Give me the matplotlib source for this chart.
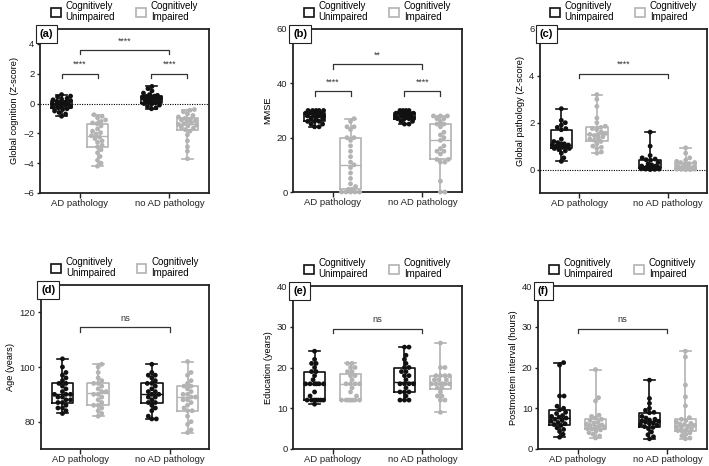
import numpy as np
import matplotlib.pyplot as plt
from matplotlib.patches import Patch

plt.rcParams['font.family'] = ['Liberation Sans', 'DejaVu Sans']
plt.rcParams['font.size'] = 6.7

groups = ['AD pathology', 'no AD pathology']
legend_labels = ['Cognitively\nUnimpaired', 'Cognitively\nImpaired']

# (a) global cognition z-score
cog_cu_ad = [0.6, 0.5, 0.45, 0.35, 0.3, 0.25, 0.2, 0.15, 0.1, 0.05, 0.0, -0.02, -0.05,
             -0.08, -0.1, -0.15, -0.2, -0.25, -0.3, -0.35, -0.4, -0.5, -0.6, -0.7, -0.85]
cog_ci_ad = [-0.75, -0.85, -0.95, -1.1, -1.2, -1.3, -1.35, -1.5, -1.7, -1.85, -1.95, -2.05, -2.15,
             -2.25, -2.35, -2.5, -2.6, -2.8, -2.9, -3.1, -3.3, -3.55, -3.8, -4.0, -4.2]
cog_cu_noad = [1.15, 1.0, 0.85, 0.7, 0.6, 0.55, 0.5, 0.48, 0.45, 0.42, 0.38, 0.35, 0.3,
               0.28, 0.25, 0.2, 0.15, 0.1, 0.05, 0.0, -0.05, -0.1, -0.2, -0.28, -0.35]
cog_ci_noad = [-0.4, -0.45, -0.55, -0.7, -0.8, -0.9, -1.0, -1.05, -1.1, -1.15, -1.2, -1.3, -1.35,
               -1.4, -1.45, -1.5, -1.6, -1.65, -1.75, -1.85, -2.1, -2.5, -2.9, -3.2, -3.7]

# (b) MMSE
mmse_cu_ad = [30, 30, 30, 30, 30, 29, 29, 29, 29, 29, 28, 28, 28, 28, 28, 27, 27, 27, 26, 26, 26, 25, 25, 24, 24]
mmse_ci_ad = [27, 26, 24, 24, 23, 20, 20, 19, 17, 15, 13, 11, 10, 9, 7, 5, 3, 2, 1, 1, 0, 0, 0, 0, 0]
mmse_cu_noad = [30, 30, 30, 30, 29, 29, 29, 29, 29, 29, 29, 28, 28, 28, 28, 28, 28, 27, 27, 27, 27, 26, 26, 25, 25]
mmse_ci_noad = [28, 28, 28, 27, 27, 26, 25, 25, 24, 22, 21, 20, 19, 17, 16, 15, 15, 14, 12, 12, 11, 11, 4, 0, 0]

# (c) global pathology z-score
path_cu_ad = [2.6, 2.1, 2.0, 1.9, 1.8, 1.75, 1.7, 1.3, 1.2, 1.15, 1.1, 1.1, 1.05, 1.05, 1.0, 1.0,
              0.95, 0.95, 0.9, 0.9, 0.85, 0.8, 0.7, 0.5, 0.35]
path_ci_ad = [3.2, 3.0, 2.7, 2.2, 2.0, 1.85, 1.8, 1.75, 1.7, 1.6, 1.55, 1.5, 1.5, 1.45, 1.4, 1.35,
              1.3, 1.25, 1.2, 1.1, 1.0, 0.95, 0.9, 0.75, 0.7]
path_cu_noad = [1.6, 1.0, 0.6, 0.5, 0.45, 0.42, 0.4, 0.3, 0.25, 0.2, 0.15, 0.15, 0.1, 0.1, 0.08,
                0.08, 0.06, 0.05, 0.05, 0.04, 0.03, 0.02, 0.02, 0.01, 0.0]
path_ci_noad = [0.93, 0.7, 0.5, 0.4, 0.35, 0.3, 0.3, 0.25, 0.2, 0.15, 0.12, 0.1, 0.1, 0.08, 0.06,
                0.05, 0.05, 0.04, 0.03, 0.02, 0.02, 0.01, 0.0, 0.0]

# (d) age
age_cu_ad = [103, 100, 98, 97, 96, 95, 94, 94, 93, 92, 91, 90, 90, 90, 89, 89, 88, 88, 87, 87, 86, 85, 85, 84, 83]
age_ci_ad = [101, 100, 98, 96, 95, 94, 94, 93, 92, 91, 91, 90, 90, 89, 88, 87, 86, 86, 85, 84, 83, 82]
age_cu_noad = [101, 98, 97, 97, 96, 95, 94, 94, 93, 92, 91, 91, 90, 90, 89, 89, 88, 87, 87, 86, 85, 84, 82, 81, 81]
age_ci_noad = [102, 98, 97, 95, 94, 93, 93, 92, 91, 90, 90, 89, 89, 88, 88, 87, 86, 85, 84, 84, 82, 80, 79, 77, 76]

# (e) education
edu_cu_ad = [24, 22, 21, 21, 20, 19, 19, 18, 17, 16, 16, 16, 16, 16, 16, 14, 13, 12, 12, 12, 12, 12, 12, 12, 11]
edu_ci_ad = [21, 21, 20, 20, 19, 19, 18, 18, 17, 16, 16, 16, 16, 15, 14, 13, 12, 12, 12, 12, 12, 12, 12]
edu_cu_noad = [25, 25, 23, 22, 21, 20, 20, 19, 19, 18, 18, 17, 16, 16, 16, 16, 15, 14, 14, 14, 13, 12, 12, 12]
edu_ci_noad = [26, 20, 20, 18, 18, 18, 18, 17, 17, 17, 16, 16, 16, 16, 16, 16, 15, 15, 14, 13, 13, 12, 12, 9]

# (f) postmortem interval
pmi_cu_ad = [21.2, 20.6, 13.0, 13.0, 10.5, 10.0, 9.6, 9.0, 8.7, 8.2, 8.0, 7.8, 7.6, 7.3, 7.0, 6.8,
             6.5, 6.2, 6.0, 5.8, 5.2, 4.8, 4.3, 3.6, 2.9]
pmi_ci_ad = [19.5, 12.6, 11.8, 8.3, 8.0, 7.6, 7.3, 7.0, 6.6, 6.4, 6.1, 5.9, 5.8, 5.6, 5.4, 5.2,
             5.0, 4.9, 4.7, 4.4, 4.0, 3.6, 3.2, 2.7]
pmi_cu_noad = [16.9, 12.4, 11.2, 10.0, 9.5, 9.0, 8.9, 8.0, 7.6, 7.3, 7.1, 6.9, 6.8, 6.6, 6.4, 6.2,
               6.0, 5.8, 5.5, 5.3, 5.0, 4.2, 3.5, 3.0, 2.5]
pmi_ci_noad = [24.0, 22.6, 15.7, 12.8, 10.6, 7.7, 7.3, 7.0, 6.6, 6.3, 6.1, 6.0, 5.8, 5.6, 5.4, 5.2,
               5.0, 4.8, 4.5, 4.3, 4.0, 3.6, 3.2, 2.7, 2.5]

BLACK = '#111111'
GRAY = '#b3b3b3'
FIG_W, FIG_H = 709, 466

panels = [
    dict(tag='(a)', ylabel='Global cognition (Z-score)', ylim=(-6, 5), yticks=[-6, -4, -2, 0, 2, 4],
         data=[cog_cu_ad, cog_ci_ad, cog_cu_noad, cog_ci_noad], zero=True,
         sig=[(-0.2, 0.2, 2.0, '****'), (0.8, 1.2, 2.0, '****'), (0, 1, 3.6, '****')]),
    dict(tag='(b)', ylabel='MMSE', ylim=(0, 60), yticks=[0, 20, 40, 60],
         data=[mmse_cu_ad, mmse_ci_ad, mmse_cu_noad, mmse_ci_noad], zero=False,
         sig=[(-0.2, 0.2, 37, '****'), (0.8, 1.2, 37, '****'), (0, 1, 47, '**')]),
    dict(tag='(c)', ylabel='Global pathology (Z-score)', ylim=(-1, 6), yticks=[0, 2, 4, 6],
         data=[path_cu_ad, path_ci_ad, path_cu_noad, path_ci_noad], zero=True,
         sig=[(0, 1, 4.1, '****')]),
    dict(tag='(d)', ylabel='Age (years)', ylim=(70, 130), yticks=[80, 100, 120],
         data=[age_cu_ad, age_ci_ad, age_cu_noad, age_ci_noad], zero=False,
         sig=[(0, 1, 114.5, 'ns')]),
    dict(tag='(e)', ylabel='Education (years)', ylim=(0, 40), yticks=[0, 10, 20, 30, 40],
         data=[edu_cu_ad, edu_ci_ad, edu_cu_noad, edu_ci_noad], zero=False,
         sig=[(0, 1, 29.5, 'ns')]),
    dict(tag='(f)', ylabel='Postmortem interval (hours)', ylim=(0, 40), yticks=[0, 10, 20, 30, 40],
         data=[pmi_cu_ad, pmi_ci_ad, pmi_cu_noad, pmi_ci_noad], zero=False,
         sig=[(0, 1, 29.5, 'ns')]),
]

# axes boxes in pixels: left, top, width, height
boxes = [(40, 29, 169, 164), (293, 29, 169, 163), (540, 29, 167, 164),
         (41, 285, 168, 164), (293, 286, 169, 163), (538, 286, 169, 163)]

XLIM = (-0.44, 1.44)
positions = [-0.2, 0.2, 0.8, 1.2]
colors = [BLACK, GRAY, BLACK, GRAY]


def swarm(vals, ylim, h_px, px_per_x, d=4.3, max_off=9.0):
    # greedy beeswarm kept inside the box, overlapping when it runs out of room
    vals = np.asarray(vals, dtype=float)
    yp = (vals - ylim[0]) / (ylim[1] - ylim[0]) * h_px
    cand = np.arange(-max_off, max_off + 0.01, 0.5)
    cand = cand[np.lexsort((cand < 0, np.abs(cand)))]
    placed, offs = [], np.zeros(len(vals))
    for i in np.argsort(vals):
        best, best_gap = 0.0, -1.0
        for s in cand:
            gap = min([np.hypot(s - px, yp[i] - py) for px, py in placed] or [99])
            if gap >= d:
                best = s
                break
            if gap > best_gap + 0.3:
                best, best_gap = s, gap
        placed.append((best, yp[i]))
        offs[i] = best / px_per_x
    return offs


fig = plt.figure(figsize=(FIG_W / 100, FIG_H / 100), dpi=100)

for p, (l, t, w, h) in zip(panels, boxes):
    ax = fig.add_axes([l / FIG_W, 1 - (t + h) / FIG_H, w / FIG_W, h / FIG_H])
    ax.set_xlim(*XLIM)
    ax.set_ylim(*p['ylim'])
    px_per_x = w / (XLIM[1] - XLIM[0])

    for vals, pos, c in zip(p['data'], positions, colors):
        ax.boxplot([vals], positions=[pos], widths=0.24, whis=(0, 100), showfliers=False,
                   boxprops=dict(color=c, lw=1.2), medianprops=dict(color=c, lw=1.0),
                   whiskerprops=dict(color=c, lw=1.2), capprops=dict(color=c, lw=1.2),
                   manage_ticks=False, zorder=2)
        offs = swarm(vals, p['ylim'], h, px_per_x)
        ax.scatter(pos + offs, vals, s=12, color=c, edgecolors='none', zorder=3, clip_on=False)

    if p['zero']:
        ax.axhline(0, color='k', ls=(0, (1, 1.2)), lw=0.8, zorder=1)

    yr = p['ylim'][1] - p['ylim'][0]
    for x0, x1, y, txt in p['sig']:
        leg = yr * 0.028
        ax.plot([x0, x0, x1, x1], [y - leg, y, y, y - leg], color='#333333', lw=0.9)
        ax.text((x0 + x1) / 2, y + yr * 0.028, txt, ha='center', va='bottom',
                fontsize=6.3 if txt != 'ns' else 6.7, color='#333333')

    ax.set_xticks([0, 1])
    ax.set_xticklabels(groups)
    ax.set_yticks(p['yticks'])
    ax.set_ylabel(p['ylabel'], labelpad=3)
    ax.tick_params(axis='both', direction='out', width=1.0, labelsize=6.8, colors='#222222',
                   labelcolor='#222222')
    ax.tick_params(axis='x', length=3.5, pad=1.0)
    ax.tick_params(axis='y', length=2.5, pad=1.5)
    for sp in ax.spines.values():
        sp.set_linewidth(1.3)
        sp.set_color('#222222')

    ax.text(0.0, 1.0, p['tag'], transform=ax.transAxes, ha='left', va='top', fontsize=8,
            fontweight='bold', bbox=dict(boxstyle='square,pad=0.35', fc='white', ec='#222222', lw=0.8))

    handles = [Patch(facecolor='white', edgecolor=BLACK, lw=1.2),
               Patch(facecolor='white', edgecolor=GRAY, lw=1.2)]
    ax.legend(handles, legend_labels, loc='lower center', bbox_to_anchor=(0.5, 1.035), ncol=2,
              frameon=False, fontsize=7, handlelength=1.0, handleheight=1.0, handletextpad=0.5,
              columnspacing=2.2, borderaxespad=0.0, borderpad=0.1, labelspacing=0.3)

fig.savefig('out.png', dpi=100)
